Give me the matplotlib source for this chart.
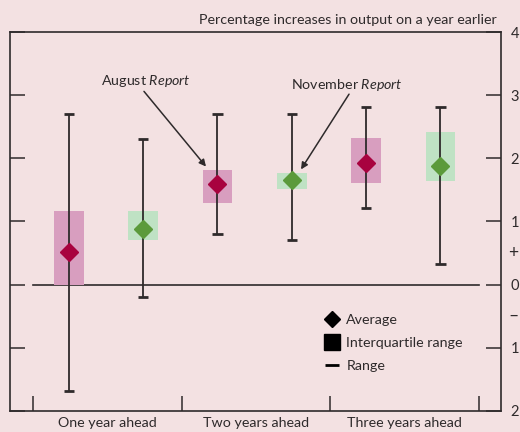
import matplotlib
matplotlib.use("Agg")
import matplotlib.pyplot as plt
import numpy as np
from matplotlib.lines import Line2D

plt.rcParams['font.family'] = ['Lato', 'DejaVu Sans']
plt.rcParams['mathtext.fontset'] = 'custom'
plt.rcParams['mathtext.rm'] = 'Lato'
plt.rcParams['mathtext.it'] = 'Lato:italic'

categories = ["One year ahead", "Two years ahead", "Three years ahead"]
# August Report
aug_avg = [0.51, 1.60, 1.93]
aug_iq_lo = [0.0, 1.29, 1.61]
aug_iq_hi = [1.17, 1.81, 2.32]
aug_rng_lo = [-1.68, 0.81, 1.21]
aug_rng_hi = [2.70, 2.70, 2.81]
# November Report
nov_avg = [0.88, 1.66, 1.88]
nov_iq_lo = [0.70, 1.51, 1.64]
nov_iq_hi = [1.17, 1.76, 2.41]
nov_rng_lo = [-0.19, 0.71, 0.32]
nov_rng_hi = [2.30, 2.70, 2.81]

yticks = [-2, -1, 0, 1, 2, 3, 4]
ytick_labels = ["2", "1", "0", "1", "2", "3", "4"]

bg = "#f3e1e2"
pink_box = "#d89ebf"
pink_pt = "#a8023f"
green_box = "#bfe2c4"
green_pt = "#5b9a3b"
dark = "#2e2a2b"
fs = 10.3

fig = plt.figure(figsize=(5.2, 4.32), dpi=100, facecolor=bg)
ax = fig.add_axes([10/520, 1 - 411/432, (501-10)/520, (411-32)/432])
ax.set_facecolor(bg)

x = np.arange(len(categories))
bw = 0.2
for series, off, bc, pc in [
    ((aug_avg, aug_iq_lo, aug_iq_hi, aug_rng_lo, aug_rng_hi), 0.24, pink_box, pink_pt),
    ((nov_avg, nov_iq_lo, nov_iq_hi, nov_rng_lo, nov_rng_hi), 0.74, green_box, green_pt),
]:
    avg, lo, hi, rlo, rhi = [np.array(s) for s in series]
    xs = x + off
    ax.bar(xs, hi - lo, bottom=lo, width=bw, color=bc, zorder=2)
    ax.vlines(xs, rlo, rhi, color=dark, lw=1.3, zorder=3)
    ax.hlines(rlo, xs - 0.035, xs + 0.035, color=dark, lw=2, zorder=3)
    ax.hlines(rhi, xs - 0.035, xs + 0.035, color=dark, lw=2, zorder=3)
    ax.plot(xs, avg, 'D', color=pc, markersize=9.5, mec=pc, zorder=4)

ax.plot([0, 3], [0, 0], color=dark, lw=1.2, zorder=1)

ax.set_xlim(-0.155, 3.147)
ax.set_ylim(-2, 4)

for s in ax.spines.values():
    s.set_color(dark)
    s.set_linewidth(1.2)

ax.set_yticks(yticks)
ax.set_yticklabels(ytick_labels)
ax.tick_params(axis='y', which='major', direction='in', length=11, width=1.1,
               color=dark, left=True, right=True, labelleft=False, labelright=True,
               labelsize=10.5, labelcolor=dark, pad=7)
ax.set_xticks([0, 1, 2, 3])
ax.set_xticklabels([])
ax.tick_params(axis='x', which='major', direction='in', length=11, width=1.1, color=dark)
ax.set_xticks(x + 0.5, minor=True)
ax.set_xticklabels(categories, minor=True)
ax.tick_params(axis='x', which='minor', length=0, labelsize=fs, labelcolor=dark, pad=4)

# sign markers on right axis
ax.annotate("+", xy=(1.0, 0.5), xycoords=('axes fraction', 'data'),
            xytext=(5, 0), textcoords='offset points', fontsize=12.5, color=dark,
            va='center', ha='left', annotation_clip=False)
ax.annotate("\u2013", xy=(1.0, -0.5), xycoords=('axes fraction', 'data'),
            xytext=(5, 0), textcoords='offset points', fontsize=12.5, color=dark,
            va='center', ha='left', annotation_clip=False)

# title
fig.text(497/520, 1 - 20/432, "Percentage increases in output on a year earlier",
         ha='right', va='center', fontsize=fs, color=dark)

# annotations
ax.text(0.76, 3.22, "August $\\it{Report}$", ha='center', va='center',
        fontsize=fs, color=dark)
ax.annotate("", xy=(1.163, 1.87), xytext=(0.746, 3.06),
            arrowprops=dict(arrowstyle='-|>', color=dark, lw=1.1, shrinkA=0, shrinkB=0,
                            mutation_scale=10))
ax.text(2.11, 3.16, "November $\\it{Report}$", ha='center', va='center',
        fontsize=fs, color=dark)
ax.annotate("", xy=(1.802, 1.825), xytext=(2.125, 3.016),
            arrowprops=dict(arrowstyle='-|>', color=dark, lw=1.1, shrinkA=0, shrinkB=0,
                            mutation_scale=10))

# legend
handles = [
    Line2D([], [], marker='D', ls='none', color='black', markersize=8.5),
    Line2D([], [], marker='s', ls='none', color='black', markersize=11),
    Line2D([], [], marker='_', ls='none', color='black', markersize=10, mew=2),
]
leg = ax.legend(handles, ["Average", "Interquartile range", "Range"],
                loc='lower left', bbox_to_anchor=(0.615, 0.07), frameon=False,
                fontsize=fs, labelcolor=dark, handlelength=1.0, handletextpad=0.5,
                labelspacing=0.75)

fig.savefig("out.png", dpi=100, facecolor=bg)
